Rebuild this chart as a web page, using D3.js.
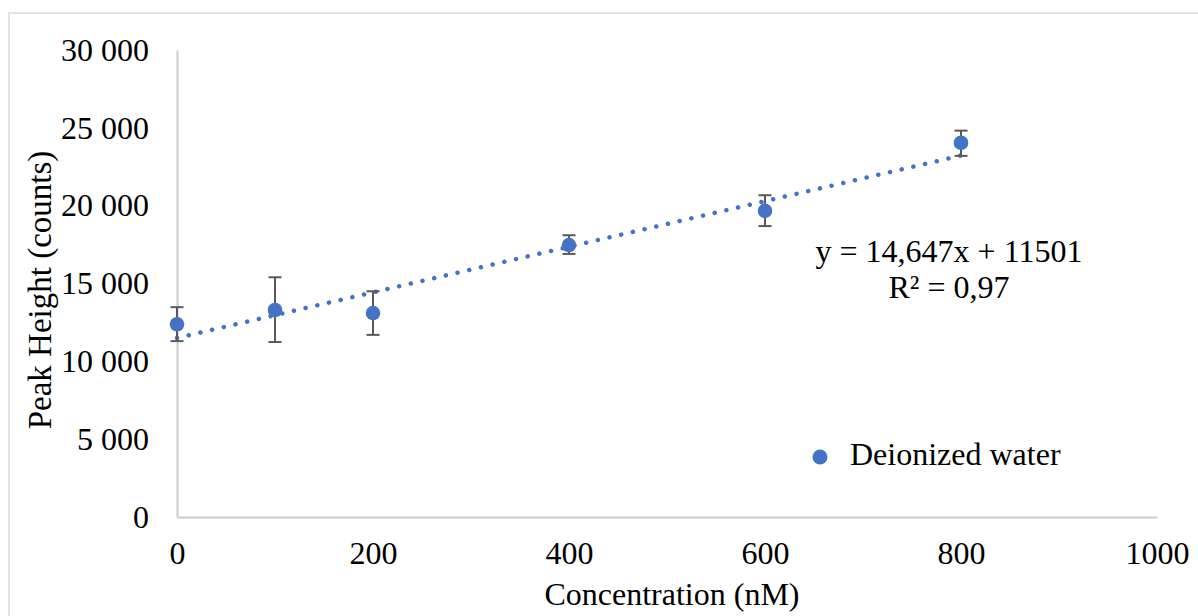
<!DOCTYPE html>
<meta charset="utf-8">
<script src="https://d3js.org/d3.v7.min.js"></script>
<style>
    body { margin: 0; background: #fff; }
    text { font-family: "Liberation Serif", "Times New Roman", serif; fill: #000; }
</style>
<div id="my_dataviz"></div>
<script>

    // data
    var concentrations = [0, 100, 200, 400, 600, 800];
    var peakHeights = [12380, 13300, 13100, 17470, 19670, 24040];
    var errorUp = [1100, 2100, 1400, 630, 1000, 780];
    var errorDown = [1080, 2060, 1400, 570, 980, 840];
    var xTicks = [0, 200, 400, 600, 800, 1000];
    var yTicks = [0, 5000, 10000, 15000, 20000, 25000, 30000];
    var slope = 14.647, intercept = 11501;

    var W = 1198, H = 616;
    var fs = "32px";
    var margin = { top: 50, right: 41, bottom: 99, left: 177 },
        width = W - margin.left - margin.right,
        height = H - margin.top - margin.bottom;

    var svg = d3.select("#my_dataviz")
        .append("svg")
        .attr("width", W)
        .attr("height", H);

    // chart area border
    svg.append("rect")
        .attr("x", 9).attr("y", 13)
        .attr("width", W + 10).attr("height", H + 10)
        .attr("fill", "none")
        .attr("stroke", "#d9d9d9")
        .attr("stroke-width", 1.5);

    var g = svg.append("g")
        .attr("transform", "translate(" + margin.left + "," + margin.top + ")");

    var x = d3.scaleLinear().domain([0, 1000]).range([0, width]);
    var y = d3.scaleLinear().domain([0, 30000]).range([height, 0]);

    var fmt = function (d) {
        return d3.format(",")(d).replace(/,/g, " ");
    };

    // X axis
    var xAxis = g.append("g")
        .attr("transform", "translate(0," + height + ")")
        .call(d3.axisBottom(x).tickValues(xTicks).tickSize(0).tickPadding(24).tickFormat(d3.format("d")));
    xAxis.select(".domain").attr("stroke", "#cccccc").attr("stroke-width", 2);
    xAxis.selectAll("text").style("font-size", fs).attr("font-family", "Liberation Serif");

    // Y axis
    var yAxis = g.append("g")
        .call(d3.axisLeft(y).tickValues(yTicks).tickSize(0).tickPadding(28).tickFormat(fmt));
    yAxis.select(".domain").attr("stroke", "#cccccc").attr("stroke-width", 2);
    yAxis.selectAll("text").style("font-size", fs).attr("font-family", "Liberation Serif");

    // axis titles
    svg.append("text")
        .attr("text-anchor", "middle")
        .attr("x", 672)
        .attr("y", 605)
        .style("font-size", fs)
        .text("Concentration (nM)");

    svg.append("text")
        .attr("text-anchor", "middle")
        .attr("transform", "translate(51,290) rotate(-90)")
        .style("font-size", "33px")
        .text("Peak Height (counts)");

    // linear trendline
    var trend = [0, 800];
    g.append("line")
        .attr("x1", x(trend[0])).attr("y1", y(slope * trend[0] + intercept))
        .attr("x2", x(trend[1])).attr("y2", y(slope * trend[1] + intercept))
        .attr("stroke", "#4472c4")
        .attr("stroke-width", 4.5)
        .attr("stroke-linecap", "round")
        .attr("stroke-dasharray", "0.1 11.9");

    var data = concentrations.map(function (c, i) {
        return { x: c, y: peakHeights[i], up: errorUp[i], down: errorDown[i] };
    });

    // error bars
    var eb = g.append("g").selectAll("g")
        .data(data)
        .enter()
        .append("g")
        .attr("stroke", "#595959")
        .attr("stroke-width", 2);
    eb.append("line")
        .attr("x1", function (d) { return x(d.x); })
        .attr("x2", function (d) { return x(d.x); })
        .attr("y1", function (d) { return y(d.y + d.up); })
        .attr("y2", function (d) { return y(d.y - d.down); });
    eb.append("line")
        .attr("x1", function (d) { return x(d.x) - 6.5; })
        .attr("x2", function (d) { return x(d.x) + 6.5; })
        .attr("y1", function (d) { return y(d.y + d.up); })
        .attr("y2", function (d) { return y(d.y + d.up); });
    eb.append("line")
        .attr("x1", function (d) { return x(d.x) - 6.5; })
        .attr("x2", function (d) { return x(d.x) + 6.5; })
        .attr("y1", function (d) { return y(d.y - d.down); })
        .attr("y2", function (d) { return y(d.y - d.down); });

    // points
    g.append("g").selectAll("circle")
        .data(data)
        .enter()
        .append("circle")
        .attr("cx", function (d) { return x(d.x); })
        .attr("cy", function (d) { return y(d.y); })
        .attr("r", 7.3)
        .style("fill", "#4472c4");

    // equation label
    svg.append("text")
        .attr("text-anchor", "middle")
        .attr("x", 949).attr("y", 262)
        .style("font-size", fs)
        .text("y = 14,647x + 11501");
    svg.append("text")
        .attr("text-anchor", "middle")
        .attr("x", 949).attr("y", 298)
        .style("font-size", fs)
        .text("R² = 0,97");

    // legend
    svg.append("circle")
        .attr("cx", 820).attr("cy", 457)
        .attr("r", 7.5)
        .style("fill", "#4472c4");
    svg.append("text")
        .attr("x", 850).attr("y", 465)
        .style("font-size", fs)
        .text("Deionized water");

</script>
